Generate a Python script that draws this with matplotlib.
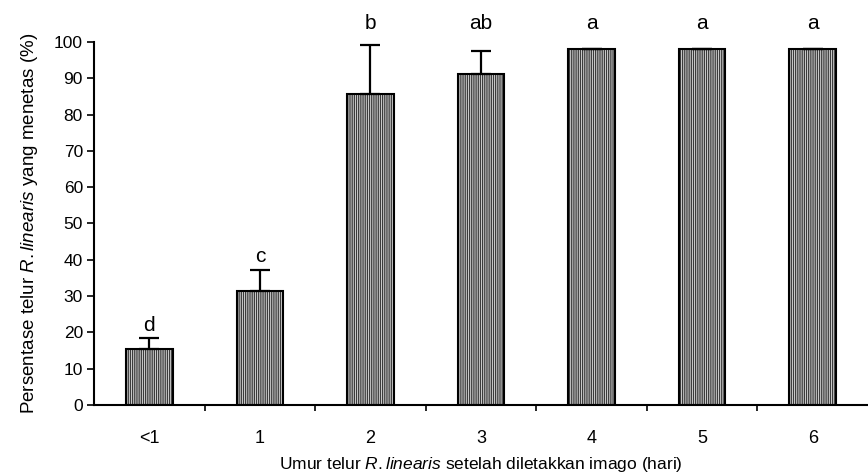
import numpy as np
import matplotlib
matplotlib.use("Agg")
import matplotlib.pyplot as plt

kategori = ["<1", "1", "2", "3", "4", "5", "6"]
persen = [15.3, 31.4, 85.7, 91.3, 98.2, 98.2, 98.2]
galat = [3.1, 5.8, 13.5, 6.3, 0, 0, 0]
huruf = ["d", "c", "b", "ab", "a", "a", "a"]

plt.rcParams["font.family"] = ["Liberation Sans", "DejaVu Sans"]
plt.rcParams["mathtext.fontset"] = "custom"
plt.rcParams["mathtext.rm"] = "Liberation Sans"
plt.rcParams["mathtext.it"] = "Liberation Sans:italic"
plt.rcParams["hatch.color"] = "#505050"
plt.rcParams["hatch.linewidth"] = 0.5

fig = plt.figure(figsize=(8.68, 4.74), dpi=100)
ax = fig.add_axes([0.1083, 0.1456, 0.8917, 0.7658])

x = np.arange(len(kategori))
ax.bar(x, persen, width=0.42, color="#c8c8c8", edgecolor="black", linewidth=1.5,
       hatch="|||||||||", zorder=2)
ax.errorbar(x, persen, yerr=[np.zeros(len(galat)), galat], fmt="none",
            ecolor="black", elinewidth=1.6, capsize=7, capthick=1.6, zorder=3)

for xi, p, g, h in zip(x, persen, galat, huruf):
    top = p + g + 3.6
    if top > 100:
        top = 105
    ax.text(xi, top, h, ha="center", va="center", fontsize=15, clip_on=False)

ax.set_xlim(-0.5, len(kategori) - 0.5)
ax.set_ylim(0, 100)
ax.set_yticks(np.arange(0, 101, 10))
ax.set_xticks(x)
ax.set_xticklabels(kategori)
ax.set_xticks(np.arange(0.5, len(kategori) - 0.5, 1), minor=True)
ax.tick_params(axis="x", which="major", length=0, pad=18, labelsize=13)
ax.tick_params(axis="x", which="minor", length=4, width=1.2, direction="out")
ax.tick_params(axis="y", length=5, width=1.2, direction="out", labelsize=12.5, pad=3)

for s in ["top", "right"]:
    ax.spines[s].set_visible(False)
ax.spines["left"].set_linewidth(1.5)
ax.spines["bottom"].set_linewidth(1.5)

ax.set_ylabel(r"Persentase telur $\mathit{R.linearis}$ yang menetas (%)", fontsize=13.5, labelpad=10)
ax.set_xlabel(r"Umur telur $\mathit{R.linearis}$ setelah diletakkan imago (hari)", fontsize=12.5, labelpad=6)

fig.savefig("out.png", dpi=100)
